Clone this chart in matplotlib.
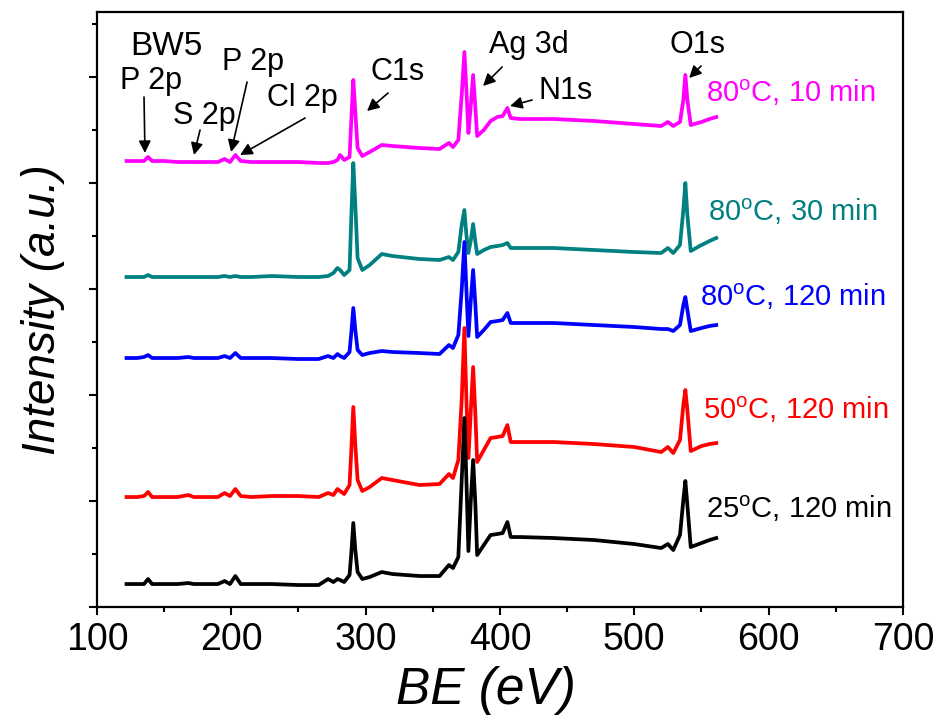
import matplotlib
matplotlib.use('Agg')
import matplotlib.pyplot as plt
from matplotlib.ticker import MultipleLocator, NullFormatter

plt.rcParams['font.family'] = ['Liberation Sans', 'DejaVu Sans']
plt.rcParams['mathtext.fontset'] = 'custom'
plt.rcParams['mathtext.rm'] = 'Liberation Sans'

# binding energy knots (eV), shared by all five survey spectra
be = [122, 130, 135, 138, 141, 150, 160, 168, 172, 180,
      190, 195, 199, 203, 207, 215, 230, 250, 265, 272,
      276, 279, 281, 284, 288, 289.5, 290.8, 292.3, 294, 297.5,
      303, 312, 320, 340, 355, 362, 365, 369, 371.5, 373.5,
      375, 376.5, 378.3, 380, 381.7, 383, 388, 393, 398, 402,
      405.5, 408, 415, 440, 470, 500, 520, 525, 529, 534,
      536.5, 538, 539.5, 542, 550, 556, 561]

# stacked intensities (a.u.)
i_80_10 = [446, 446, 446, 450, 446, 446, 445, 445, 445, 445,
           445, 448, 445, 452, 446, 445, 445, 445, 444, 444,
           445, 447, 452, 447, 450, 492, 527, 495, 459, 451,
           455, 462, 461, 459, 458, 464, 460, 467, 512, 555,
           517, 474, 502, 532, 499, 471, 477, 486, 490, 491,
           499, 489, 488, 488, 486, 483, 481, 485, 481, 485,
           507, 532, 507, 482, 485, 488, 490]
i_80_30 = [330, 330, 330, 332, 330, 330, 330, 330, 330, 330,
           330, 331, 330, 331, 330, 330, 331, 330, 330, 331,
           334, 339, 337, 332, 337, 397, 444, 402, 349, 337,
           342, 353, 351, 348, 347, 350, 347, 355, 382, 397,
           372, 354, 367, 383, 365, 353, 357, 360, 361, 362,
           364, 359, 359, 359, 357, 355, 354, 359, 354, 362,
           397, 424, 392, 356, 362, 366, 369]
i_80_120 = [249, 249, 250, 252, 249, 249, 249, 250, 249, 249,
            249, 251, 249, 254, 249, 249, 249, 248, 248, 251,
            249, 253, 251, 249, 255, 277, 299, 277, 257, 252,
            254, 256, 255, 254, 253, 262, 259, 272, 317, 365,
            317, 271, 307, 337, 302, 270, 277, 285, 286, 287,
            294, 284, 284, 284, 282, 280, 278, 278, 276, 282,
            302, 310, 297, 276, 279, 281, 282]
i_50_120 = [110, 110, 111, 115, 110, 110, 110, 112, 110, 110,
            110, 114, 111, 118, 111, 110, 111, 111, 110, 114,
            112, 118, 116, 113, 122, 162, 200, 162, 127, 116,
            120, 129, 127, 122, 123, 133, 129, 147, 207, 279,
            207, 149, 197, 240, 192, 145, 157, 169, 170, 171,
            182, 165, 165, 165, 163, 160, 155, 160, 154, 167,
            202, 217, 197, 156, 161, 163, 164]
i_25_120 = [23, 23, 23, 28, 23, 23, 23, 24, 23, 23,
            23, 26, 23, 31, 23, 23, 23, 22, 22, 28,
            25, 28, 27, 25, 32, 57, 84, 57, 35, 28,
            30, 35, 33, 31, 31, 42, 39, 50, 127, 189,
            127, 56, 107, 147, 102, 52, 62, 72, 73, 74,
            85, 70, 70, 69, 67, 63, 59, 63, 57, 72,
            107, 126, 102, 60, 64, 67, 69]

series = [i_80_10, i_80_30, i_80_120, i_50_120, i_25_120]
labels = ['80$^{\\rm o}$C, 10 min', '80$^{\\rm o}$C, 30 min', '80$^{\\rm o}$C, 120 min',
          '50$^{\\rm o}$C, 120 min', '25$^{\\rm o}$C, 120 min']
colors = ['#ff00ff', '#008080', '#0000ff', '#ff0000', '#000000']
label_xy = [(553.5, 514), (555, 395), (549, 310), (551.2, 197), (553.5, 98)]

# peak assignments: text, text position, arrow tail, arrow tip
peaks = [('P 2p', (140.2, 526), (135, 510), (135.7, 454)),
         ('S 2p', (179.7, 491), (176.7, 477), (172.2, 452)),
         ('P 2p', (216.2, 545), (211.7, 525), (199.8, 455)),
         ('Cl 2p', (252.6, 509), (254.9, 489), (206.5, 452)),
         ('C1s', (324.1, 535), (316.7, 514), (301, 496)),
         ('Ag 3d', (421.7, 562), (401.6, 540), (387.4, 521)),
         ('N1s', (449.2, 516), (423.9, 507), (407.5, 501)),
         ('O1s', (546.8, 562), (549.7, 541), (540.8, 529))]

fig = plt.figure(figsize=(9.4, 7.23), dpi=100)
ax = fig.add_axes([0.1032, 0.1604, 0.8574, 0.823])

for y, c in zip(series, colors):
    ax.plot(be, y, color=c, lw=2.7, solid_joinstyle='round')

for lab, c, (x, y) in zip(labels, colors, label_xy):
    ax.text(x, y, lab, color=c, fontsize=21, ha='left', va='center')

for txt, tpos, tail, tip in peaks:
    ax.text(tpos[0], tpos[1], txt, fontsize=22, ha='center', va='center')
    ax.annotate('', xy=tip, xytext=tail,
                arrowprops=dict(arrowstyle='-|>', color='k', lw=1.2,
                                mutation_scale=18, shrinkA=0, shrinkB=0))

ax.text(124.6, 561, 'BW5', fontsize=24, ha='left', va='center')

ax.set_xlim(100, 700)
ax.set_ylim(0, 595)
ax.xaxis.set_major_locator(MultipleLocator(100))
ax.xaxis.set_minor_locator(MultipleLocator(50))
ax.yaxis.set_major_locator(MultipleLocator(106))
ax.yaxis.set_minor_locator(MultipleLocator(53))
ax.yaxis.set_major_formatter(NullFormatter())
ax.tick_params(which='both', direction='out', width=1.5, top=False, right=False)
ax.tick_params(which='major', length=6, labelsize=27, pad=5)
ax.tick_params(which='minor', length=3.5)
for s in ax.spines.values():
    s.set_linewidth(1.6)

ax.set_xlabel('BE (eV)', fontsize=37, style='italic', va='center')
ax.xaxis.set_label_coords(0.482, -0.14)
ax.set_ylabel('Intensity (a.u.)', fontsize=33, style='italic', labelpad=12)

fig.savefig('out.png', dpi=100)
